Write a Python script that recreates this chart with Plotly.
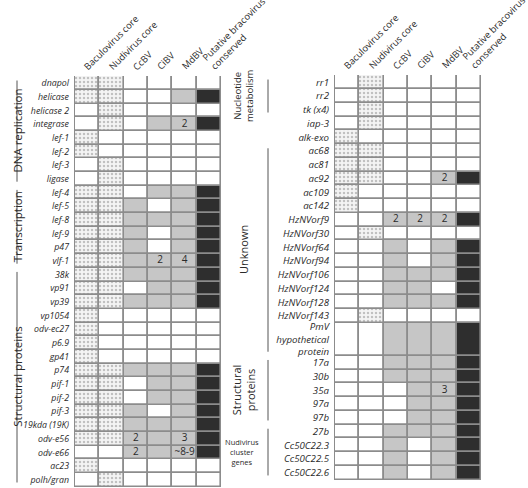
import plotly.graph_objects as go
import numpy as np

# ---------------- data ----------------
columns = ["Baculovirus core", "Nudivirus core", "CcBV", "CiBV", "MdBV",
           "Putative bracovirus<br>conserved"]

# cell codes: h = hatched (core gene), w = absent, g = present, k = putative conserved
left_genes = ["dnapol", "helicase", "helicase 2", "integrase", "lef-1", "lef-2", "lef-3",
              "ligase", "lef-4", "lef-5", "lef-8", "lef-9", "p47", "vlf-1", "38k", "vp91",
              "vp39", "vp1054", "odv-ec27", "p6.9", "gp41", "p74", "pif-1", "pif-2", "pif-3",
              "19kda (19K)", "odv-e56", "odv-e66", "ac23", "polh/gran"]
left_cells = ["hhwwww", "hhwwgk", "whwwww", "whwggk", "hwwwww", "hwwwww", "whwwww",
              "whwwww", "hhwggk", "hhgwgk", "hhgggk", "hhgwgk", "hhgwgk", "hhgggk",
              "hhgggk", "hhwggk", "hhgggk", "hwwwww", "hwwwww", "hwwwww", "hwwwww",
              "hhgggk", "hhwggk", "hhwggk", "hhgwgk", "hhgggk", "hhgggk", "wwgggk",
              "hwwwww", "whwwww"]
left_notes = [("integrase", 4, "2"), ("vlf-1", 3, "2"), ("vlf-1", 4, "4"),
              ("odv-e56", 2, "2"), ("odv-e56", 4, "3"), ("odv-e66", 2, "2"),
              ("odv-e66", 4, "~8-9")]
left_groups = [("DNA replication", "dnapol", "ligase"),
               ("Transcription", "lef-4", "vlf-1"),
               ("Structural proteins", "38k", "polh/gran")]

right_genes = ["rr1", "rr2", "tk (x4)", "iap-3", "alk-exo", "ac68", "ac81", "ac92", "ac109",
               "ac142", "HzNVorf9", "HzNVorf30", "HzNVorf64", "HzNVorf94", "HzNVorf106",
               "HzNVorf124", "HzNVorf128", "HzNVorf143", "PmV<br>hypothetical<br>protein",
               "17a", "30b", "35a", "97a", "97b", "27b", "Cc50C22.3", "Cc50C22.5",
               "Cc50C22.6"]
right_cells = ["whwwww", "whwwww", "whwwww", "whwwww", "hwwwww", "hhwwww", "hhwwww",
               "hhwwgk", "hwwwww", "hwwwww", "wwgggk", "whwwww", "wwgwgk", "wwgwgk",
               "wwgggk", "wwggwk", "wwgggk", "whwwww", "wwgggk", "wwgggk", "wwgggk",
               "wwwggk", "wwwggk", "wwwggk", "wwgggk", "wwgwgk", "wwgwgk", "wwgwgk"]
right_row_units = [1] * 18 + [2.4] + [1] * 9
right_notes = [("ac92", 4, "2"), ("HzNVorf9", 2, "2"), ("HzNVorf9", 3, "2"),
               ("HzNVorf9", 4, "2"), ("35a", 4, "3")]
right_groups = [("Nucleotide<br>metabolism", "rr1", "tk (x4)"),
                ("Unknown", "ac68", "PmV<br>hypothetical<br>protein"),
                ("Structural<br>proteins", "17a", "97b"),
                ("Nudivirus<br>cluster<br>genes", "27b", "Cc50C22.6")]

# ---------------- styling ----------------
FONT = "Open Sans"
TXT = "#2a2a2a"
BORDER = "#8c8c8c"
styles = {
    "w": dict(color="white"),
    "g": dict(color="#c6c6c6"),
    "k": dict(color="#2e2e2e"),
    "h": dict(color="#f2f2f2", pattern=dict(shape=".", fgcolor="#8e8e8e",
                                              bgcolor="#f4f4f4", size=4, solidity=0.3)),
}

W, H = 528, 488


def px(x):
    return x / W


def py(y):
    return 1 - y / H


fig = go.Figure()


def add_table(genes, cells, units, notes, groups, xa, ya, xdom, ydom,
              glabel_x, gline_x, gfont, label_size):
    units = np.array(units, dtype=float)
    tops = np.concatenate([[0.0], np.cumsum(units)[:-1]])
    centers = tops + units / 2
    total = units.sum()
    idx = {g: i for i, g in enumerate(genes)}
    for code, st in styles.items():
        xs, bases, ys = [], [], []
        for i, row in enumerate(cells):
            for j, c in enumerate(row):
                if c == code:
                    xs.append(j)
                    bases.append(tops[i])
                    ys.append(units[i])
        marker = dict(line=dict(color=BORDER, width=1.6))
        marker.update(st)
        fig.add_trace(go.Bar(x=xs, y=ys, base=bases, width=1.0, marker=marker,
                             xaxis=xa, yaxis=ya, hoverinfo="skip", showlegend=False))
    fig.add_trace(go.Scatter(
        x=[n[1] for n in notes], y=[centers[idx[n[0]]] for n in notes],
        text=[n[2] for n in notes], mode="text", textfont=dict(family=FONT, size=10, color=TXT),
        xaxis=xa, yaxis=ya, hoverinfo="skip", showlegend=False))
    axn = xa.replace("x", "xaxis")
    ayn = ya.replace("y", "yaxis")
    fig.layout[axn] = dict(domain=xdom, range=[-0.53, 5.53], showticklabels=False,
                           showgrid=False, zeroline=False, showline=False, ticks="",
                           anchor=ya, fixedrange=True, automargin=False)
    fig.layout[ayn] = dict(domain=ydom, range=[total + 0.03, -0.03], tickmode="array",
                           tickvals=list(centers), ticktext=genes,
                           showgrid=False, zeroline=False, showline=False, ticks="",
                           tickfont=dict(family=FONT, size=label_size, color=TXT, style="italic"),
                           ticklabelstandoff=4, anchor=xa, fixedrange=True, automargin=False)
    # column headers
    for j, name in enumerate(columns):
        two = "<br>" in name
        fig.add_annotation(text=name, xref=xa, yref=ya, x=j - 0.5 + (-0.02 if two else 0.15),
                           y=0, xanchor="left", yanchor="bottom", yshift=1, showarrow=False,
                           textangle=-45, align="left",
                           font=dict(family=FONT, size=9.4, color=TXT))
    for label, g0, g1 in groups:
        i0, i1 = idx[g0], idx[g1]
        y0 = tops[i0] + 0.3
        y1 = tops[i1] + units[i1] - 0.3
        fig.add_shape(type="line", xref="paper", yref=ya, x0=px(gline_x), x1=px(gline_x),
                      y0=y0, y1=y1, line=dict(color="#555555", width=1))
        ymid = (tops[i0] + tops[i1] + units[i1]) / 2
        if "cluster" in label:
            fig.add_annotation(text=label, xref="paper", yref=ya, x=px(gline_x - 26),
                               y=ymid, showarrow=False,
                               font=dict(family=FONT, size=7.5, color=TXT), align="center")
        else:
            size = gfont - 1.5 if "Nucleotide" in label else gfont
            fig.add_annotation(text=label, xref="paper", yref=ya, x=px(glabel_x),
                               y=ymid, showarrow=False,
                               textangle=-90, font=dict(family=FONT, size=size, color=TXT),
                               align="center")


add_table(left_genes, left_cells, [1] * len(left_genes), left_notes, left_groups,
          "x", "y", [px(74), px(222)], [py(487), py(76)], 8, 17, 11.5, 8.8)
add_table(right_genes, right_cells, right_row_units, right_notes, right_groups,
          "x2", "y2", [px(334), px(482)], [py(480), py(75)], 243, 268, 11, 9.7)

fig.update_layout(width=W, height=H, margin=dict(l=0, r=0, t=0, b=0, autoexpand=False),
                  plot_bgcolor="white", paper_bgcolor="white", barmode="overlay",
                  bargap=0, font=dict(family=FONT, color=TXT))
# remove the browser's default 8px page margin so the figure fills the 528x488 window
fig.write_html("out.html", config={"displayModeBar": False},
               post_script="document.body.style.margin='0';document.body.style.overflow='hidden';")
